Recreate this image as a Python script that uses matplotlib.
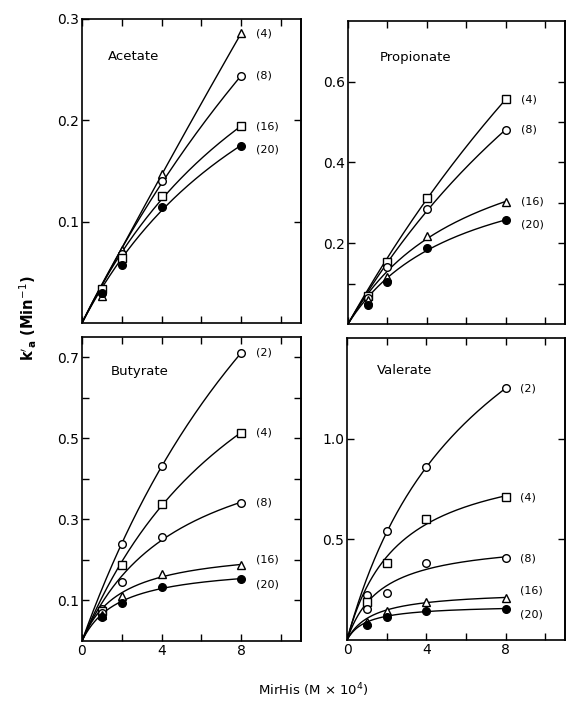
import numpy as np
import matplotlib
matplotlib.use("Agg")
import matplotlib.pyplot as plt

# MirHis concentration (M x 10^4)
conc = [1, 2, 4, 8]

# k'a values (min^-1)
acetate = {
    "(4)": [0.027, 0.072, 0.147, 0.286],
    "(8)": [0.030, 0.068, 0.140, 0.244],
    "(16)": [0.034, 0.064, 0.125, 0.194],
    "(20)": [0.030, 0.057, 0.114, 0.175],
}
propionate = {
    "(4)": [0.070, 0.154, 0.313, 0.556],
    "(8)": [0.065, 0.141, 0.284, 0.481],
    "(16)": [0.060, 0.117, 0.219, 0.302],
    "(20)": [0.047, 0.105, 0.187, 0.257],
}
butyrate = {
    "(2)": [0.080, 0.239, 0.432, 0.711],
    "(4)": [0.075, 0.188, 0.338, 0.514],
    "(8)": [0.070, 0.146, 0.257, 0.341],
    "(16)": [0.065, 0.111, 0.165, 0.187],
    "(20)": [0.059, 0.094, 0.133, 0.153],
}
valerate = {
    "(2)": [0.225, 0.540, 0.857, 1.250],
    "(4)": [0.190, 0.380, 0.600, 0.710],
    "(8)": [0.155, 0.235, 0.380, 0.405],
    "(16)": [0.090, 0.145, 0.190, 0.210],
    "(20)": [0.075, 0.115, 0.145, 0.155],
}

markers = {
    "(2)": dict(marker="o", mfc="white"),
    "(4)": dict(marker="s", mfc="white"),
    "(8)": dict(marker="o", mfc="white"),
    "(16)": dict(marker="s", mfc="white"),
    "(20)": dict(marker="o", mfc="black"),
}


def smooth(x, y, n=300):
    # saturating least-squares curve through the origin, only for the drawn line:
    # y = a*x/(1+b*x) + c*x, b scanned on a grid
    x = np.asarray(x, float)
    y = np.asarray(y, float)
    w = np.array([0.25, 1.0, 1.5, 2.0])
    best = None
    for b in np.linspace(0, 4, 801):
        A = np.column_stack([x / (1 + b * x), x])
        c = np.linalg.lstsq(A * w[:, None], y * w, rcond=None)[0]
        if c[0] < 0 or c[1] < 0:
            c = np.append(np.linalg.lstsq(A[:, :1] * w[:, None], y * w, rcond=None)[0], 0)
        err = np.sum((w * (c[0] * x / (1 + b * x) + c[1] * x - y)) ** 2)
        if best is None or err < best[0]:
            best = (err, b, c)
    _, b, c = best
    xs = np.linspace(0, x[-1], n)
    return xs, c[0] * xs / (1 + b * xs) + c[1] * xs


W, H = 566, 702
fig = plt.figure(figsize=(W / 100, H / 100), dpi=100)


def px_axes(l, t, r, b):
    return fig.add_axes([l / W, 1 - b / H, (r - l) / W, (b - t) / H])


panels = [
    # name, data, pixel box, ylim, left ticks, left labels, right ticks, triangle series, label offsets (pt), title pos
    ("Acetate", acetate, (82, 19, 301, 323), 0.3,
     [0.1, 0.2, 0.3], ["0.1", "0.2", "0.3"], [0.1, 0.2], "(4)",
     {"(20)": -3}, (0.12, 0.875)),
    ("Propionate", propionate, (348, 21, 565, 324), 0.75,
     [0.1, 0.2, 0.4, 0.6], ["", "0.2", "0.4", "0.6"],
     [0.1, 0.2, 0.3, 0.4, 0.5, 0.6], "(16)",
     {"(20)": -3}, (0.145, 0.88)),
    ("Butyrate", butyrate, (82, 337, 301, 641), 0.75,
     [0.1, 0.2, 0.3, 0.4, 0.5, 0.6, 0.7],
     ["0.1", "", "0.3", "", "0.5", "", "0.7"],
     [0.1, 0.2, 0.3, 0.4, 0.5, 0.6, 0.7], "(16)",
     {"(16)": 4, "(20)": -4}, (0.13, 0.885)),
    ("Valerate", valerate, (347, 338, 565, 640), 1.5,
     [0.5, 1.0], ["0.5", "1.0"], [0.5, 1.0], "(16)",
     {"(16)": 5, "(20)": -4}, (0.135, 0.894)),
]

for i, (name, data, box, ymax, lt, ll, rt, tri, offs, tpos) in enumerate(panels):
    ax = px_axes(*box)
    ax.set_xlim(0, 11)
    ax.set_ylim(0, ymax)
    for key, vals in data.items():
        xs, ys = smooth(conc, vals)
        ax.plot(xs, ys, color="black", lw=1.0, zorder=2)
        st = dict(markers[key])
        if key == tri:
            st["marker"] = "^"
        ax.plot(conc, vals, linestyle="none", mec="black", mew=1.0,
                ms=5.5, zorder=3, **st)
        ax.annotate(key, (8.75, vals[-1]), xytext=(0, offs.get(key, 0)),
                    textcoords="offset points", ha="left", va="center",
                    fontsize=8)
    ax.text(tpos[0], tpos[1], name, transform=ax.transAxes, fontsize=9.5,
            ha="left", va="center")
    ax.set_yticks(lt)
    ax.set_yticklabels(ll)
    ax.set_xticks([0, 2, 4, 6, 8, 10])
    if i >= 2:
        ax.set_xticklabels(["0", "", "4", "", "8", ""])
    else:
        ax.set_xticklabels([])
    ax.tick_params(direction="in", length=5, width=1, labelsize=10,
                   top=True, right=False, pad=2)
    sec = ax.secondary_yaxis("right")
    sec.set_yticks(rt)
    sec.set_yticklabels([])
    sec.tick_params(direction="in", length=5, width=1)
    for s in ax.spines.values():
        s.set_linewidth(1.2)
    sec.spines["right"].set_linewidth(1.2)

fig.text(28 / W, 1 - 318 / H, r"$\mathbf{k'_a}$ (Min$^{-1}$)", rotation=90,
         ha="center", va="center", fontsize=10.5, fontweight="bold")
fig.text(313 / W, 1 - 690 / H, r"MirHis (M $\times$ 10$^4$)", ha="center",
         va="center", fontsize=9.5)

fig.savefig("out.png", dpi=100)
